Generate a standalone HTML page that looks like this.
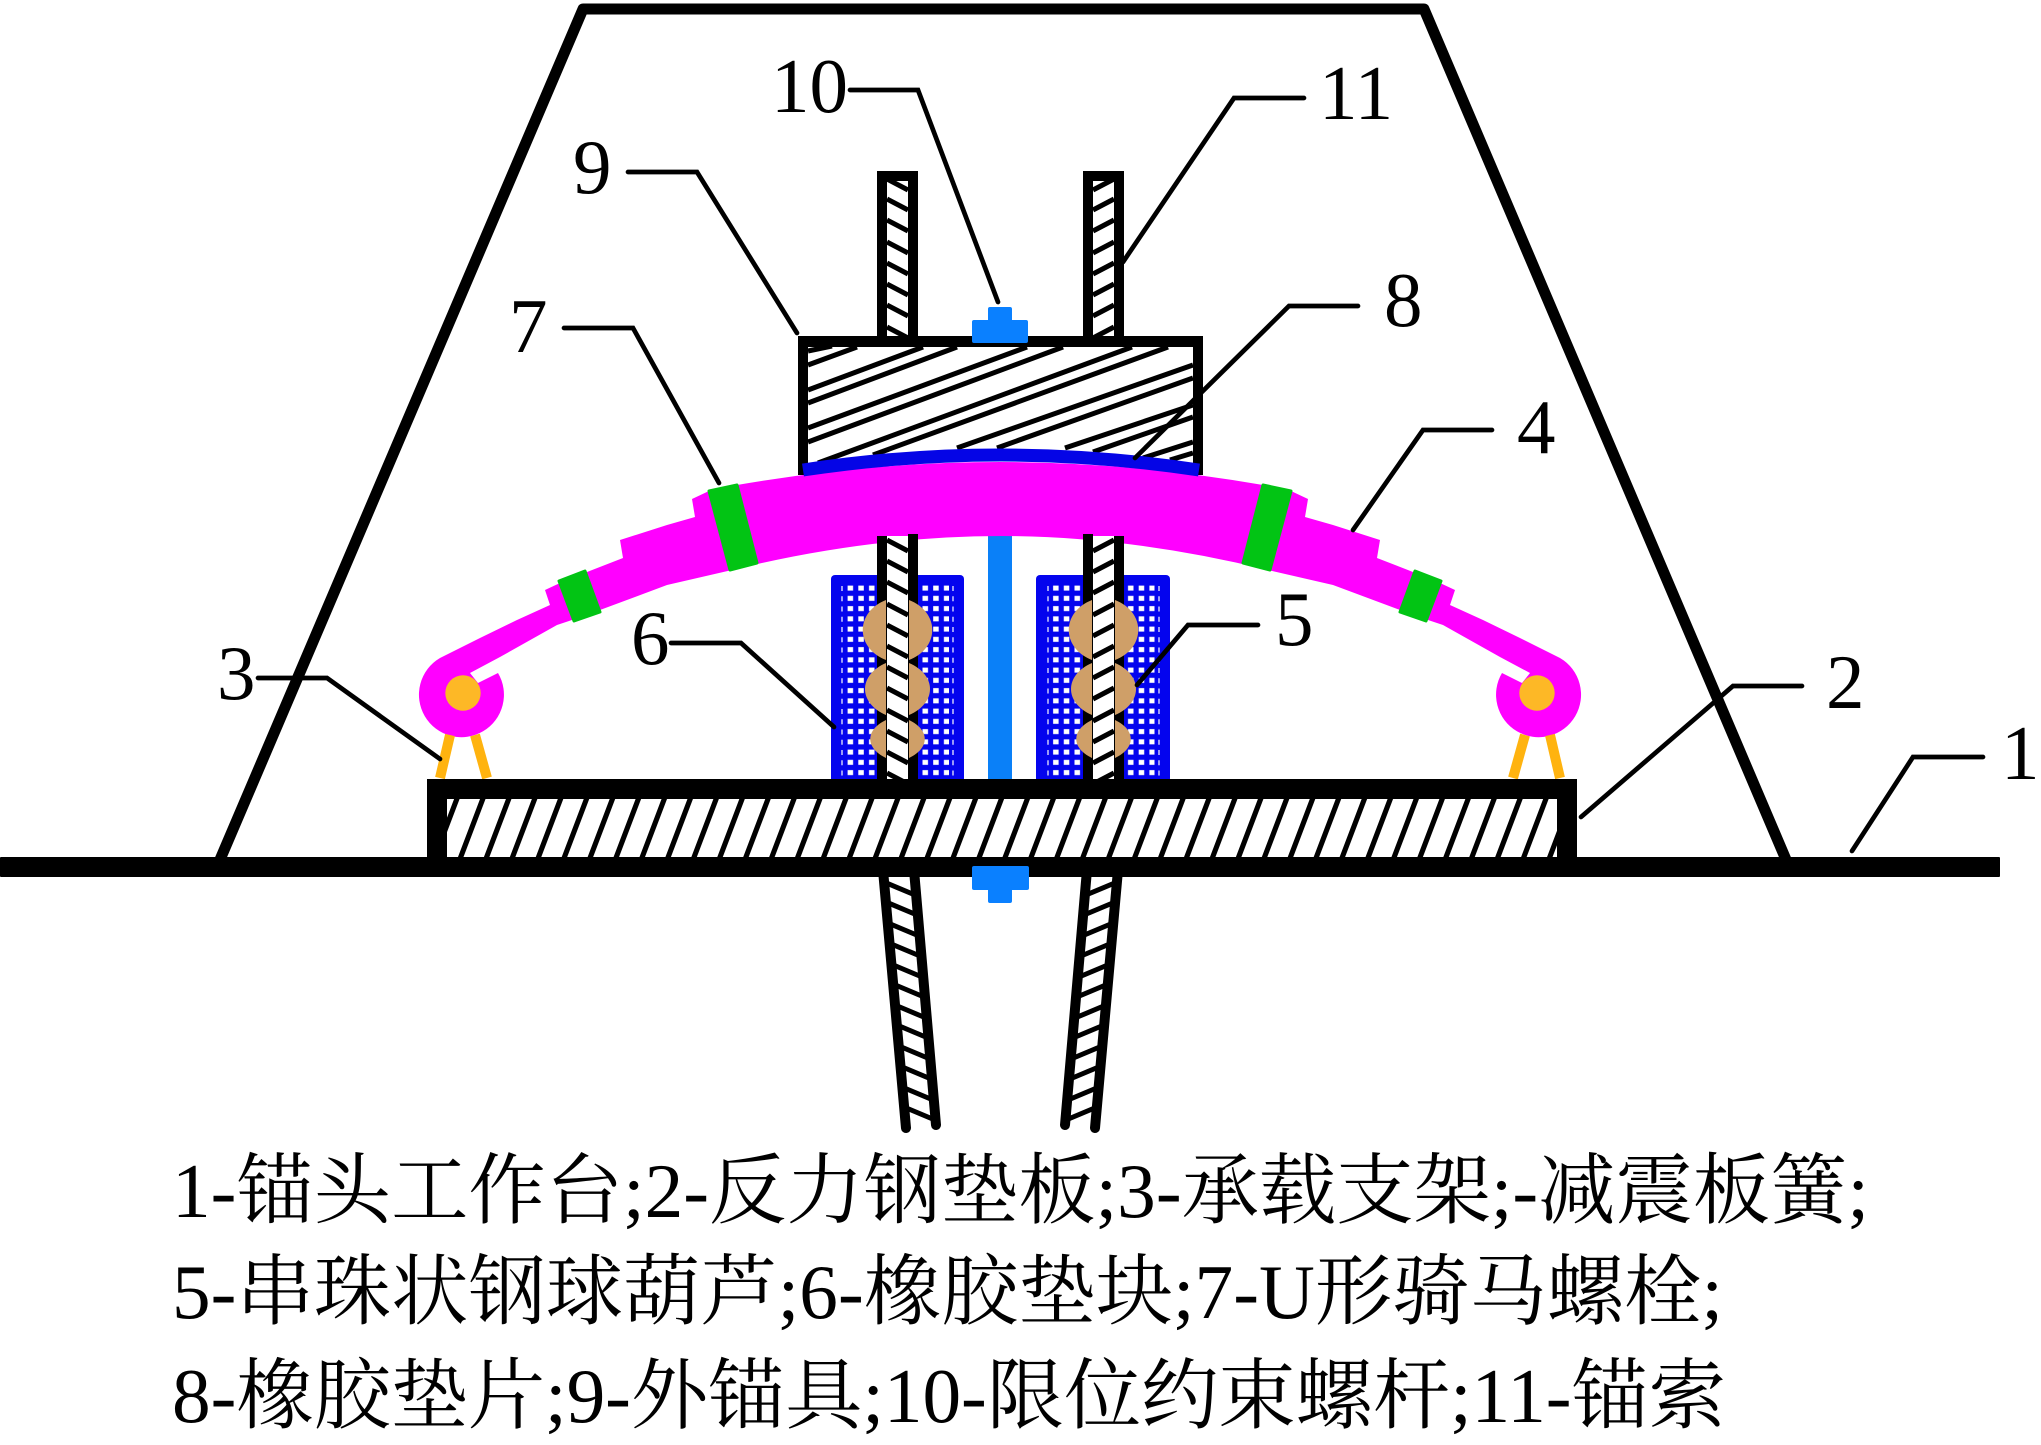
<!DOCTYPE html>
<html>
<head>
<meta charset="utf-8">
<style>
html,body{margin:0;padding:0;background:#fff;}
svg{display:block;}
.n{font-family:"Liberation Serif","Noto Serif CJK SC",serif;font-size:77px;fill:#000;}
.c{font-family:"Liberation Serif","Noto Serif CJK SC",serif;font-size:77.3px;fill:#000;}
</style>
</head>
<body>
<svg width="2041" height="1445" viewBox="0 0 2041 1445" xmlns="http://www.w3.org/2000/svg">
<defs>
  <pattern id="hatch" patternUnits="userSpaceOnUse" width="25.93" height="58" patternTransform="translate(821,857) skewX(-20.8)">
    <rect x="0" y="-1" width="5.5" height="60" fill="#000"/>
  </pattern>
  <pattern id="dots" patternUnits="userSpaceOnUse" width="10.7" height="10.25">
    <rect x="2.6" y="2.6" width="5.5" height="5" fill="#fff"/>
  </pattern>
  <g id="upperRod">
    <rect x="882" y="176" width="31" height="165" fill="#fff"/>
    <g stroke="#000" stroke-width="5">
      <line x1="887" y1="179" x2="908" y2="190"/>
      <line x1="887" y1="199" x2="908" y2="210"/>
      <line x1="887" y1="220" x2="908" y2="231"/>
      <line x1="887" y1="242" x2="908" y2="253"/>
      <line x1="887" y1="263" x2="908" y2="274"/>
      <line x1="887" y1="284" x2="908" y2="295"/>
      <line x1="887" y1="305" x2="908" y2="316"/>
      <line x1="887" y1="327" x2="908" y2="338"/>
    </g>
    <rect x="877" y="171" width="41" height="10" fill="#000"/>
    <rect x="877" y="171" width="10" height="170" fill="#000"/>
    <rect x="908" y="171" width="10" height="170" fill="#000"/>
  </g>
  <g id="midRod">
    <rect x="887" y="536" width="21" height="245" fill="#fff"/>
    <g stroke="#000" stroke-width="5">
      <line x1="887" y1="540" x2="908" y2="551"/>
      <line x1="887" y1="561" x2="908" y2="572"/>
      <line x1="887" y1="582" x2="908" y2="593"/>
      <line x1="887" y1="604" x2="908" y2="615"/>
      <line x1="887" y1="625" x2="908" y2="636"/>
      <line x1="887" y1="646" x2="908" y2="657"/>
      <line x1="887" y1="667" x2="908" y2="678"/>
      <line x1="887" y1="688" x2="908" y2="699"/>
      <line x1="887" y1="710" x2="908" y2="721"/>
      <line x1="887" y1="731" x2="908" y2="742"/>
      <line x1="887" y1="752" x2="908" y2="763"/>
      <line x1="887" y1="773" x2="908" y2="784"/>
    </g>
    <rect x="877" y="536" width="10" height="245" fill="#000"/>
    <rect x="908" y="534" width="10" height="247" fill="#000"/>
    <g fill="#cf9f68">
      <path d="M886 600C855 612 855 648 886 660Z"/>
      <path d="M886 663C858 675 858 703 886 715Z"/>
      <path d="M886 720C865 730 865 748 886 758Z"/>
      <path d="M909 600C940 612 940 648 909 660Z"/>
      <path d="M909 663C937 675 937 703 909 715Z"/>
      <path d="M909 720C930 730 930 748 909 758Z"/>
    </g>
  </g>
  <g id="lowerRod">
    <g stroke="#000" stroke-width="5">
      <line x1="884" y1="882" x2="915" y2="895"/>
      <line x1="886" y1="902" x2="917" y2="915"/>
      <line x1="888" y1="923" x2="919" y2="936"/>
      <line x1="889" y1="943" x2="920" y2="956"/>
      <line x1="891" y1="964" x2="922" y2="977"/>
      <line x1="893" y1="984" x2="924" y2="997"/>
      <line x1="895" y1="1005" x2="926" y2="1018"/>
      <line x1="897" y1="1025" x2="928" y2="1038"/>
      <line x1="899" y1="1046" x2="930" y2="1059"/>
      <line x1="900" y1="1066" x2="931" y2="1079"/>
      <line x1="902" y1="1087" x2="933" y2="1100"/>
      <line x1="904" y1="1107" x2="935" y2="1120"/>
    </g>
    <line x1="883" y1="870" x2="906" y2="1128" stroke="#000" stroke-width="10" stroke-linecap="round"/>
    <line x1="914" y1="870" x2="936" y2="1125" stroke="#000" stroke-width="10" stroke-linecap="round"/>
  </g>
  <g id="leaf">
    <path fill="#ff00ff" d="M998 462Q1130 462 1263 485L1291 491L1308 499L1305 517L1333 525L1380 540L1377 558L1413 572L1440 583L1455 590L1450 605L1483 620L1520 638L1560 658A42.5 42.5 0 1 1 1502 673L1522 683L1530 673L1500 657L1443 625L1428 620L1400 610L1333 585L1268 570Q1130 536 998 536Z"/>
    <circle cx="1537" cy="693" r="17.7" fill="#fdb826"/>
    <line x1="1525" y1="735" x2="1513" y2="778" stroke="#ffb30f" stroke-width="10"/>
    <line x1="1550" y1="735" x2="1560" y2="778" stroke="#ffb30f" stroke-width="10"/>
    <path d="M1263 485L1291 491L1270 570L1243 563Z" fill="#02c414" stroke="#02c414" stroke-width="3" stroke-linejoin="round"/>
    <path d="M1415 571L1441 581L1426 621L1400 612Z" fill="#02c414" stroke="#02c414" stroke-width="3" stroke-linejoin="round"/>
  </g>
</defs>

<rect width="2041" height="1445" fill="#fff"/>

<!-- trapezoid -->
<path d="M219 862L583 9H1424L1787 862" fill="none" stroke="#000" stroke-width="11" stroke-linejoin="round"/>

<!-- upper anchor rods -->
<use href="#upperRod"/>
<use href="#upperRod" transform="translate(2001,0) scale(-1,1)"/>

<!-- centre column -->
<rect x="988" y="530" width="24" height="250" fill="#0a80f8"/>

<!-- rubber blocks -->
<rect x="831" y="575" width="133" height="212" rx="4" fill="#0404ee"/>
<rect x="1036" y="575" width="134" height="212" rx="4" fill="#0404ee"/>
<g transform="translate(845,583)"><rect width="104" height="195" fill="url(#dots)"/></g>
<g transform="translate(1050.5,583)"><rect width="104" height="195" fill="url(#dots)"/></g>
<g stroke="#fff" stroke-width="1.2" stroke-dasharray="5 5.25">
  <line x1="842" y1="586" x2="842" y2="776"/>
  <line x1="953" y1="586" x2="953" y2="776"/>
  <line x1="1048" y1="586" x2="1048" y2="776"/>
  <line x1="1159" y1="586" x2="1159" y2="776"/>
</g>

<!-- anchor block -->
<rect x="803" y="341" width="395" height="130" fill="#fff"/>
<g stroke="#000" stroke-width="5">
  <line x1="808" y1="351" x2="832" y2="346"/>
  <line x1="808" y1="365" x2="857" y2="347"/>
  <line x1="808" y1="390" x2="923" y2="347"/>
  <line x1="808" y1="403" x2="957" y2="347"/>
  <line x1="808" y1="428" x2="1027" y2="347"/>
  <line x1="808" y1="442" x2="1063" y2="347"/>
  <line x1="818" y1="463" x2="1132" y2="347"/>
  <line x1="873" y1="455" x2="1168" y2="347"/>
  <line x1="957" y1="448" x2="1193" y2="365"/>
  <line x1="997" y1="448" x2="1193" y2="378"/>
  <line x1="1065" y1="448" x2="1193" y2="405"/>
  <line x1="1093" y1="452" x2="1193" y2="417"/>
  <line x1="1143" y1="458" x2="1193" y2="442"/>
  <line x1="1170" y1="460" x2="1193" y2="453"/>
</g>
<rect x="798" y="336" width="405" height="11" fill="#000"/>
<rect x="798" y="336" width="10" height="139" fill="#000"/>
<rect x="1193" y="336" width="10" height="139" fill="#000"/>

<!-- spring -->
<use href="#leaf"/>
<use href="#leaf" transform="translate(2000,0) scale(-1,1)"/>

<!-- mid rods -->
<use href="#midRod"/>
<use href="#midRod" transform="translate(2001,0) scale(-1,1)"/>

<!-- gasket -->
<path d="M803 470Q1000 440 1199 470" fill="none" stroke="#0505e6" stroke-width="13"/>

<!-- reaction plate -->
<rect x="447" y="799" width="1110" height="58" fill="#fff"/>
<rect x="447" y="799" width="1110" height="58" fill="url(#hatch)"/>
<rect x="427" y="779" width="1150" height="20" fill="#000"/>
<rect x="427" y="779" width="20" height="85" fill="#000"/>
<rect x="1557" y="779" width="20" height="85" fill="#000"/>

<!-- lower rods -->
<use href="#lowerRod"/>
<use href="#lowerRod" transform="translate(2001,0) scale(-1,1)"/>

<!-- ground -->
<rect x="0" y="857" width="2000" height="20" rx="1" fill="#000"/>

<!-- nuts -->
<path d="M988 309a2 2 0 0 1 2-2h20a2 2 0 0 1 2 2V320h14a2 2 0 0 1 2 2V341a2 2 0 0 1-2 2H974a2 2 0 0 1-2-2V322a2 2 0 0 1 2-2H988Z" fill="#0a80ff"/>
<path d="M974 866H1027a2 2 0 0 1 2 2V888a2 2 0 0 1-2 2H1012V901a2 2 0 0 1-2 2H990a2 2 0 0 1-2-2V890H974a2 2 0 0 1-2-2V868a2 2 0 0 1 2-2Z" fill="#0a80ff"/>

<!-- leaders -->
<g fill="none" stroke="#000" stroke-width="4.7" stroke-linecap="round" stroke-linejoin="miter">
  <path d="M1983 757H1913L1852 851"/>
  <path d="M1802 686H1733L1581 817"/>
  <path d="M258 678H327L440 759"/>
  <path d="M1492 430H1423L1353 530"/>
  <path d="M1258 625H1188L1137 685"/>
  <path d="M671 643H741L834 727"/>
  <path d="M564 328H633L719 483"/>
  <path d="M1358 306H1289L1135 458"/>
  <path d="M628 172H697L797 333"/>
  <path d="M850 90H918L998 302"/>
  <path d="M1304 98H1234L1123 262"/>
</g>

<!-- numbers -->
<text class="n" x="2001" y="779">1</text>
<text class="n" x="1826" y="708">2</text>
<text class="n" x="217" y="699">3</text>
<text class="n" x="1517" y="453">4</text>
<text class="n" x="1275" y="645">5</text>
<text class="n" x="631" y="664">6</text>
<text class="n" x="509" y="352">7</text>
<text class="n" x="1384" y="326">8</text>
<text class="n" x="573" y="193">9</text>
<text class="n" x="771" y="112">10</text>
<text class="n" x="1319" y="119">11</text>

<!-- caption -->
<text class="c" x="172" y="1217" textLength="1697" lengthAdjust="spacing">1-锚头工作台;2-反力钢垫板;3-承载支架;-减震板簧;</text>
<text class="c" x="172" y="1318" textLength="1551" lengthAdjust="spacing">5-串珠状钢球葫芦;6-橡胶垫块;7-U形骑马螺栓;</text>
<text class="c" x="172" y="1422" textLength="1554" lengthAdjust="spacing">8-橡胶垫片;9-外锚具;10-限位约束螺杆;11-锚索</text>
</svg>
</body>
</html>
